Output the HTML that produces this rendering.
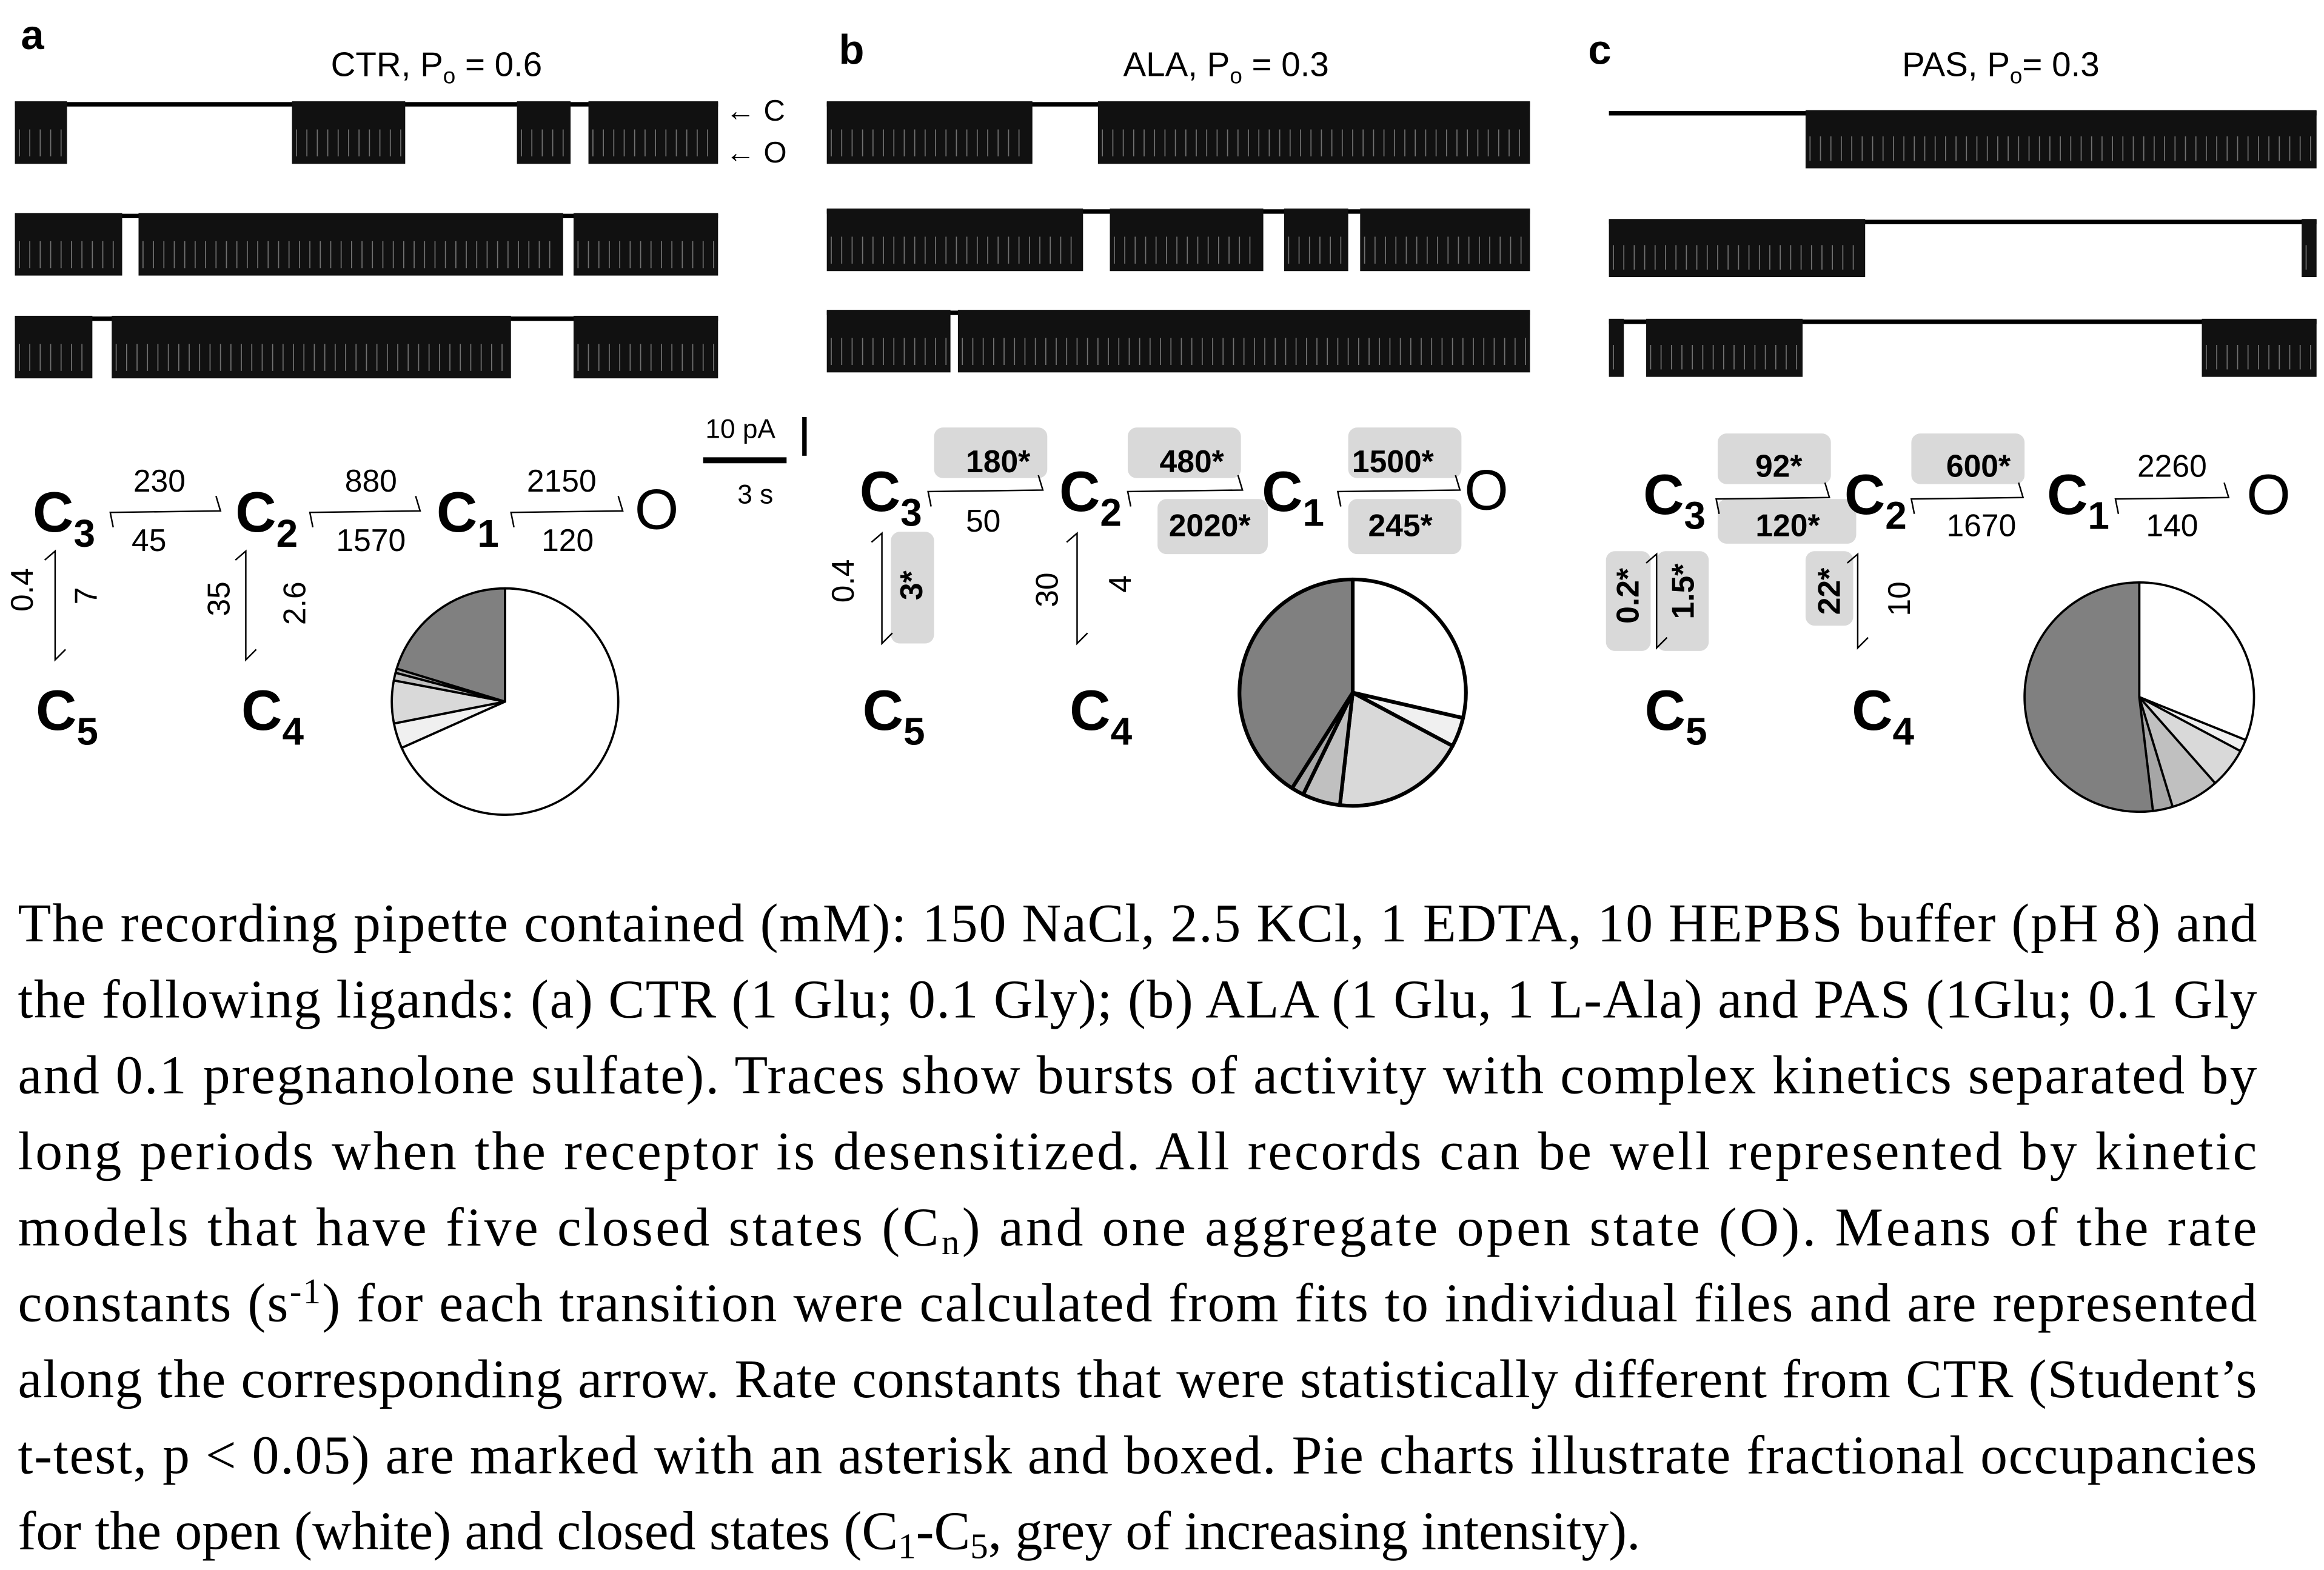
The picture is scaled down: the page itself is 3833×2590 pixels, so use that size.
<!DOCTYPE html>
<html><head><meta charset="utf-8"><style>
html,body{margin:0;padding:0;background:#fff;}
svg{display:block;}
.s{font-family:"Liberation Sans",sans-serif;}
.cap{font-family:"Liberation Serif",serif;font-size:36.5px;}
.st{font-family:"Liberation Sans",sans-serif;font-weight:bold;font-size:38px;}
.sub{font-size:26px;}
.n{font-family:"Liberation Sans",sans-serif;font-size:21px;}
.nb{font-family:"Liberation Sans",sans-serif;font-size:21px;font-weight:bold;}
</style></head><body>
<svg id="fig" width="3833" height="2590" viewBox="0 0 1560 1054" preserveAspectRatio="none" xmlns="http://www.w3.org/2000/svg">
<rect width="1560" height="1054" fill="#fff"/>
<text class="s" x="14" y="33" font-size="28" font-weight="bold">a</text>
<text class="s" x="563" y="43" font-size="28" font-weight="bold">b</text>
<text class="s" x="1066" y="43" font-size="28" font-weight="bold">c</text>
<text class="s" x="293" y="51" font-size="23" text-anchor="middle">CTR, P<tspan font-size="15" dy="5">o</tspan><tspan dy="-5"> = 0.6</tspan></text>
<text class="s" x="823" y="51" font-size="23" text-anchor="middle">ALA, P<tspan font-size="15" dy="5">o</tspan><tspan dy="-5"> = 0.3</tspan></text>
<text class="s" x="1343" y="51" font-size="23" text-anchor="middle">PAS, P<tspan font-size="15" dy="5">o</tspan><tspan dy="-5">= 0.3</tspan></text>
<text class="s" x="487" y="81" font-size="20">← C</text>
<text class="s" x="487" y="109" font-size="20">← O</text>
<g id="traces"></g>
<g>
<text class="s" x="497" y="294" font-size="18" text-anchor="middle">10 pA</text>
<line x1="540" y1="280" x2="540" y2="306" stroke="#000" stroke-width="3"/>
<line x1="472" y1="309" x2="528" y2="309" stroke="#000" stroke-width="4"/>
<text class="s" x="507" y="338" font-size="18" text-anchor="middle">3 s</text>
</g>
<g id="schemes"></g>
<g id="pies"></g>
<g class="cap">
<text x="12" y="632" textLength="1503" lengthAdjust="spacing">The recording pipette contained (mM): 150 NaCl, 2.5 KCl, 1 EDTA, 10 HEPBS buffer (pH 8) and</text>
<text x="12" y="683" textLength="1503" lengthAdjust="spacing">the following ligands: (a) CTR (1 Glu; 0.1 Gly); (b) ALA (1 Glu, 1 L-Ala) and PAS (1Glu; 0.1 Gly</text>
<text x="12" y="734" textLength="1503" lengthAdjust="spacing">and 0.1 pregnanolone sulfate). Traces show bursts of activity with complex kinetics separated by</text>
<text x="12" y="785" textLength="1503" lengthAdjust="spacing">long periods when the receptor is desensitized. All records can be well represented by kinetic</text>
<text x="12" y="836" textLength="1503" lengthAdjust="spacing">models that have five closed states (C<tspan font-size="24" dy="6">n</tspan><tspan dy="-6">) and one aggregate open state (O). Means of the rate</tspan></text>
<text x="12" y="887" textLength="1503" lengthAdjust="spacing">constants (s<tspan font-size="24" dy="-12">-1</tspan><tspan dy="12">) for each transition were calculated from fits to individual files and are represented</tspan></text>
<text x="12" y="938" textLength="1503" lengthAdjust="spacing">along the corresponding arrow. Rate constants that were statistically different from CTR (Student’s</text>
<text x="12" y="989" textLength="1503" lengthAdjust="spacing">t-test, p &lt; 0.05) are marked with an asterisk and boxed. Pie charts illustrate fractional occupancies</text>
<text x="12" y="1040">for the open (white) and closed states (C<tspan font-size="24" dy="6">1</tspan><tspan dy="-6">-C</tspan><tspan font-size="24" dy="6">5</tspan><tspan dy="-6">, grey of increasing intensity).</tspan></text>
</g>
</svg>
<script>
const pieLabels = ["O","C1","C2","C3","C4","C5"];
const pieA = [0.683, 0.036, 0.061, 0.011, 0.006, 0.203];
const pieB = [0.286, 0.042, 0.190, 0.054, 0.018, 0.410];
const pieC = [0.311, 0.017, 0.057, 0.068, 0.028, 0.519];
const pieColors = ["#ffffff","#f0f0f0","#d9d9d9","#c0c0c0","#a6a6a6","#808080"];
const burstsA = [[[10,45],[196,272],[347,383],[395,482]],[[10,82],[93,378],[385,482]],[[10,62],[75,343],[385,482]]];
const burstsB = [[[555,693],[737,1027]],[[555,727],[745,848],[862,905],[913,1027]],[[555,638],[643,1027]]];
const burstsC = [[[1212,1555]],[[1080,1252],[1545,1555]],[[1080,1090],[1105,1210],[1478,1555]]];

const NS="http://www.w3.org/2000/svg";
function mk(tag,attrs,parent){const e=document.createElementNS(NS,tag);for(const k in attrs)e.setAttribute(k,attrs[k]);parent.appendChild(e);return e;}

const tr=document.getElementById('traces');
const panels=[{b:burstsA,x0:10,x1:482,tops:[68,143,212],h:42},{b:burstsB,x0:555,x1:1027,tops:[68,140,208],h:42},{b:burstsC,x0:1080,x1:1555,tops:[74,147,214],h:39}];
panels.forEach((p,pi)=>{p.b.forEach((row,ri)=>{
  const t=p.tops[ri];
  const ln=mk('line',{x1:p.x0,x2:p.x1,y1:t+2,y2:t+2,stroke:'#000','stroke-width':3},tr);
  
  
  row.forEach(seg=>{
    const r=mk('rect',{x:seg[0],y:t,width:seg[1]-seg[0],height:p.h,fill:'#111'},tr);
    
    
    for(let x=seg[0]+3;x<seg[1]-2;x+=7){
      const w=mk('line',{x1:x,x2:x,y1:t+p.h*0.45,y2:t+p.h-5,stroke:'#fff','stroke-width':0.7,opacity:0.4},tr);
      
      
    }
  });
});});

const pg=document.getElementById('pies');
function pie(vals,cx,cy,r,name,sw){
  let a=0;const tot=vals.reduce((s,v)=>s+v,0);
  vals.forEach((v,i)=>{
    const a0=a/tot*2*Math.PI;a+=v;const a1=a/tot*2*Math.PI;
    const x0=cx+r*Math.sin(a0),y0=cy-r*Math.cos(a0),x1=cx+r*Math.sin(a1),y1=cy-r*Math.cos(a1);
    const large=(a1-a0)>Math.PI?1:0;
    const p=mk('path',{d:`M${cx},${cy}L${x0},${y0}A${r},${r} 0 ${large} 1 ${x1},${y1}Z`,fill:pieColors[i],stroke:'#000','stroke-width':sw,'stroke-linejoin':'round'},pg);
    
    
  });
}
pie(pieA,339,471,76,'pie-ctr',1.5);
pie(pieB,908,465,76,'pie-ala',2.5);
pie(pieC,1436,468,77,'pie-pas',1.5);

const sg=document.getElementById('schemes');
function state(x,y,sub,name){
  const t=mk('text',{x:x,y:y,class:'st'},sg);
  
  
  t.textContent='C';
  if(sub){const s=mk('tspan',{class:'sub',dy:10},t);s.textContent=sub;}
}
function hArrow(x1,x2,y,name){
  const p=mk('path',{d:`M${x1+2},${y+10}L${x1},${y}L${x2},${y-1}L${x2-3},${y-11}`,fill:'none',stroke:'#000','stroke-width':1},sg);
  
  
}
function vArrow(x,y1,y2,name){
  const p=mk('path',{d:`M${x-7},${y1+6}L${x},${y1}L${x},${y2}L${x+7},${y2-7}`,fill:'none',stroke:'#000','stroke-width':1},sg);
  
  
}
function box(x,y,w,h){const b=mk('rect',{x:x,y:y,width:w,height:h,rx:6,fill:'#d9d9d9'},sg);
  
  }
function num(txt,x,y,bold,rot,name){
  const t=mk('text',{x:x,y:y,class:bold?'nb':'n','text-anchor':'middle'},sg);
  if(rot)t.setAttribute('transform',`rotate(-90 ${x} ${y})`);
  
  
  t.textContent=txt;
}
function O(x,y){const t=mk('text',{x:x,y:y,class:'s','font-size':38},sg);
  
  t.textContent='O';}

state(22,357,'3','state-c3');state(158,357,'2','state-c2');state(293,357,'1','state-c1');O(426,355);
hArrow(74,148,344,'arrow-c3-c2');hArrow(208,282,344,'arrow-c2-c1');hArrow(343,418,344,'arrow-c1-o');
num('230',107,330,0,0,'rate-c3-c2');num('45',100,370,0,0,'rate-c2-c3');
num('880',249,330,0,0,'rate-c2-c1');num('1570',249,370,0,0,'rate-c1-c2');
num('2150',377,330,0,0,'rate-c1-o');num('120',381,370,0,0,'rate-o-c1');
vArrow(37,370,443,'arrow-c3-c5');vArrow(165,370,443,'arrow-c2-c4');
num('0.4',22,396,0,1,'rate-c3-c5');num('7',65,400,0,1,'rate-c5-c3');
num('35',154,402,0,1,'rate-c2-c4');num('2.6',205,405,0,1,'rate-c4-c2');
state(24,490,'5','state-c5');state(162,490,'4','state-c4');

box(627,287,76,34);box(757,287,76,34);box(777,335,74,37);box(905,287,76,34);box(905,335,76,37);box(598,357,29,75);
state(577,343,'3','state-c3');state(711,343,'2','state-c2');state(847,343,'1','state-c1');O(983,342);
hArrow(623,700,330,'arrow-c3-c2');hArrow(757,834,330,'arrow-c2-c1');hArrow(898,980,330,'arrow-c1-o');
num('180*',670,317,1,0,'rate-c3-c2');num('50',660,357,0,0,'rate-c2-c3');
num('480*',800,317,1,0,'rate-c2-c1');num('2020*',812,360,1,0,'rate-c1-c2');
num('1500*',935,317,1,0,'rate-c1-o');num('245*',940,360,1,0,'rate-o-c1');
vArrow(592,358,432,'arrow-c3-c5');vArrow(723,358,432,'arrow-c2-c4');
num('0.4',573,390,0,1,'rate-c3-c5');num('3*',619,393,1,1,'rate-c5-c3');
num('30',710,396,0,1,'rate-c2-c4');num('4',759,392,0,1,'rate-c4-c2');
state(579,490,'5','state-c5');state(718,490,'4','state-c4');

box(1153,291,76,34);box(1153,335,93,30);box(1283,291,76,34);box(1078,370,30,67);box(1112,370,35,67);box(1212,370,32,50);
state(1103,345,'3','state-c3');state(1238,345,'2','state-c2');state(1374,345,'1','state-c1');O(1508,345);
hArrow(1152,1228,335,'arrow-c3-c2');hArrow(1283,1358,335,'arrow-c2-c1');hArrow(1420,1496,335,'arrow-c1-o');
num('92*',1194,320,1,0,'rate-c3-c2');num('120*',1200,360,1,0,'rate-c2-c3');
num('600*',1328,320,1,0,'rate-c2-c1');num('1670',1330,360,0,0,'rate-c1-c2');
num('2260',1458,320,0,0,'rate-c1-o');num('140',1458,360,0,0,'rate-o-c1');
vArrow(1112,372,435,'arrow-c3-c5');vArrow(1247,372,435,'arrow-c2-c4');
num('0.2*',1100,400,1,1,'rate-c3-c5');num('1.5*',1137,397,1,1,'rate-c5-c3');
num('22*',1235,397,1,1,'rate-c2-c4');num('10',1282,402,0,1,'rate-c4-c2');
state(1104,490,'5','state-c5');state(1243,490,'4','state-c4');
</script>
</body></html>
